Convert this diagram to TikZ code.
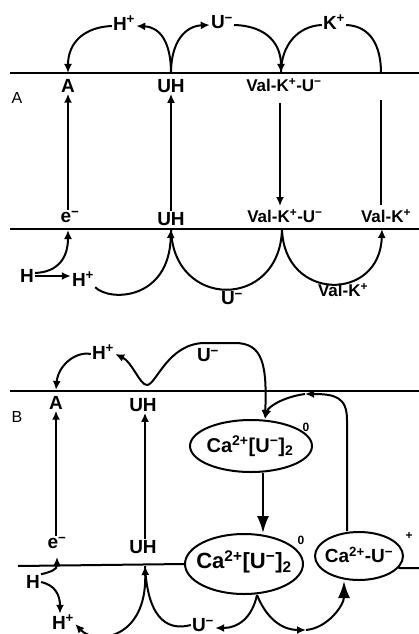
\documentclass[tikz,border=0pt]{standalone}
\usepackage{fontspec}
\setmainfont{Liberation Sans}
\usetikzlibrary{arrows.meta,shapes.geometric}
\tikzset{
  ln/.style={line width=2pt},
  arr/.style={ln,-{Latex[length=9pt,width=8pt]}},
  dbl/.style={ln,{Latex[length=9pt,width=8pt]}-{Latex[length=9pt,width=8pt]}},
  bigarr/.style={ln,-{Latex[length=17pt,width=12pt]}},
  lbl/.style={font=\fontsize{19}{21}\selectfont\bfseries,inner sep=1pt},
  vlbl/.style={font=\fontsize{17}{19}\selectfont\bfseries,inner sep=1pt},
  ctext/.style={font=\fontsize{20}{22}\selectfont\bfseries,inner sep=0pt},
  panel/.style={font=\fontsize{16}{18}\selectfont,inner sep=0pt},
  sm/.style={font=\fontsize{12}{13}\selectfont\bfseries,inner sep=0pt},
  ell/.style={ellipse,draw,line width=2pt,inner sep=0pt},
}
\begin{document}
\begin{tikzpicture}[x=1pt,y=-1pt]
\useasboundingbox (0,0) rectangle (419,634);

% ---------------- Panel A ----------------
\draw[ln] (10,73) -- (419,73);
\draw[ln] (10,229) -- (419,229);
\node[panel] (pA) at (17,98) {A};

\node[lbl] (Aa) at (68,86) {A};
\node[lbl] (UHa) at (171,86) {UH};
\node[vlbl] (VKUa) at (284,85) {Val-K\textsuperscript{+}-U\textsuperscript{−}};
\node[lbl] (Hpa) at (124,23) {H\textsuperscript{+}};
\node[lbl] (Uma) at (222,22) {U\textsuperscript{−}};
\node[lbl] (Kpa) at (334,22) {K\textsuperscript{+}};

\node[lbl] (ea) at (70,217) {e\textsuperscript{−}};
\node[lbl] (UHb) at (171,219) {UH};
\node[vlbl] (VKUb) at (285,216) {Val-K\textsuperscript{+}-U\textsuperscript{−}};
\node[vlbl] (VKb) at (386,216) {Val-K\textsuperscript{+}};
\node[lbl] (Ha) at (27,276) {H};
\node[lbl] (Hpb) at (83,279) {H\textsuperscript{+}};
\node[lbl] (Umb) at (232,298) {U\textsuperscript{−}};
\node[vlbl] (VKc) at (343,290) {Val-K\textsuperscript{+}};

\coordinate (tA) at (68,73);
\coordinate (tU) at (171,73);
\coordinate (tV) at (281,73);
\coordinate (tK) at (381,73);
\coordinate (bE) at (68,230);
\coordinate (bU) at (171,229);
\coordinate (bV) at (282,229);
\coordinate (bK) at (382,229);
\coordinate (vVt) at (280,103);
\coordinate (vVb) at (280,206);
\coordinate (vKt) at (381,100);
\coordinate (vKb) at (381,205);

\draw[arr] (tU) .. controls (171,42) and (160,27) .. ([yshift=-3pt]Hpa.east);
\draw[arr] ([yshift=-3pt]Hpa.west) .. controls (85,27) and (68,42) .. (tA);
\draw[arr] (tU) .. controls (171,42) and (185,26) .. ([yshift=-3pt]Uma.west);
\draw[arr] ([yshift=-3pt]Uma.east) .. controls (268,26) and (281,45) .. (tV);
\draw[ln] ([yshift=-3pt]Kpa.west) .. controls (298,26) and (281,45) .. (tV);
\draw[ln] ([yshift=-3pt]Kpa.east) .. controls (370,26) and (381,45) .. (tK);

\draw[arr] (Aa.south |- ea.north) -- (Aa.south);
\draw[arr] (UHa.south |- UHb.north) -- (UHa.south);
\draw[arr] (vVt) -- (vVb);
\draw[ln] (vKt) -- (vKb);

\draw[arr] (Ha.east) -- (Ha.east -| Hpb.west);
\draw[arr] ([yshift=3pt]Ha.east) .. controls (58,272) and (68,258) .. (bE);
\draw[arr] (Hpb.south east) .. controls (110,302) and (169,300) .. (bU);
\draw[ln] (bU) .. controls (173,310) and (280,310) .. (bV);
\draw[arr] (bV) .. controls (284,302) and (380,302) .. (bK);

% ---------------- Panel B ----------------
\draw[ln] (10,391) -- (419,391);
\node[panel] (pB) at (17,417) {B};

\node[lbl] (Ab) at (56,403) {A};
\node[lbl] (UHc) at (143,405) {UH};
\node[lbl] (Hpc) at (103,352) {H\textsuperscript{+}};
\node[lbl] (Umc) at (208,355) {U\textsuperscript{−}};

\node[ell,minimum width=122pt,minimum height=52pt] (e1) at (251,446) {};
\node[ctext] (e1t) at (250,446) {Ca\textsuperscript{2+}[U\textsuperscript{−}]\textsubscript{2}};
\node[sm] (z1) at (306,427) {0};

\node[ell,minimum width=118pt,minimum height=60pt] (e2) at (244,564) {};
\node[ctext,font=\fontsize{22}{24}\selectfont\bfseries] (e2t) at (244,562) {Ca\textsuperscript{2+}[U\textsuperscript{−}]\textsubscript{2}};
\node[sm] (z2) at (301,540) {0};

\node[ell,minimum width=88pt,minimum height=48pt] (e3) at (359,556) {};
\node[ctext,font=\fontsize{19}{21}\selectfont\bfseries] (e3t) at (359,555) {Ca\textsuperscript{2+}-U\textsuperscript{−}};
\node[sm] (z3) at (409,536) {+};

\draw[ln] (18,566) -- (e2.west);
\draw[ln] (e3.-17) -- (419,568);

\coordinate (tA2) at (56,390);
\coordinate (dip) at (147,385);
\coordinate (rl) at (305,394);
\coordinate (lpr) at (347,420);

\draw[arr] ([yshift=-2pt]Hpc.west) .. controls (75,351) and (58,366) .. (tA2);
\draw[arr] (dip) .. controls (140,385) and (132,362) .. ([yshift=-2pt]Hpc.east);
\draw[arr] (dip) .. controls (156,385) and (168,343) .. (205,343) -- (235,343)
  .. controls (263,343) and (267,365) .. ([xshift=14pt]e1.north);
\draw[arr] ([xshift=-12pt]e3.north) -- (lpr) .. controls (347,397) and (335,394) .. (rl);
\draw[arr] (rl) .. controls (283,397) and (268,407) .. ([xshift=14pt]e1.north);

\node[lbl] (eb) at (57,543) {e\textsuperscript{−}};
\node[lbl] (UHd) at (143,547) {UH};
\node[lbl] (Hb) at (33,582) {H};
\node[lbl] (Hpd) at (63,622) {H\textsuperscript{+}};
\node[lbl] (Umd) at (203,625) {U\textsuperscript{−}};

\draw[arr] (Ab.south |- eb.north) -- (Ab.south);
\draw[arr] ([xshift=2pt]UHc.south |- UHd.north) -- ([xshift=2pt]UHc.south);
\draw[bigarr] ([xshift=12pt]e1.south) -- ([xshift=12pt]e1.south |- e2.north);

\coordinate (bE3) at (57,557);
\coordinate (bU3) at (145,566);
\coordinate (rb) at (306,630);

\draw[arr] (Hb.north east) .. controls (50,572) and (57,570) .. (bE3);
\draw[arr] (Hb.east) .. controls (55,585) and (60,595) .. ([xshift=-3pt]Hpd.north);
\draw[dbl] ([yshift=-2pt]Hpd.east) .. controls (95,645) and (147,640) .. (bU3);
\draw[ln] (bU3) .. controls (148,625) and (172,630) .. (Umd.west);
\draw[arr] ([xshift=13pt]e2.south) .. controls (252,618) and (238,628) .. ([yshift=-3pt]Umd.east);
\draw[arr] ([xshift=13pt]e2.south) .. controls (268,622) and (285,630) .. (rb);
\draw[bigarr] (rb) .. controls (328,628) and (344,605) .. ([xshift=-15pt]e3.south);
\end{tikzpicture}
\end{document}
